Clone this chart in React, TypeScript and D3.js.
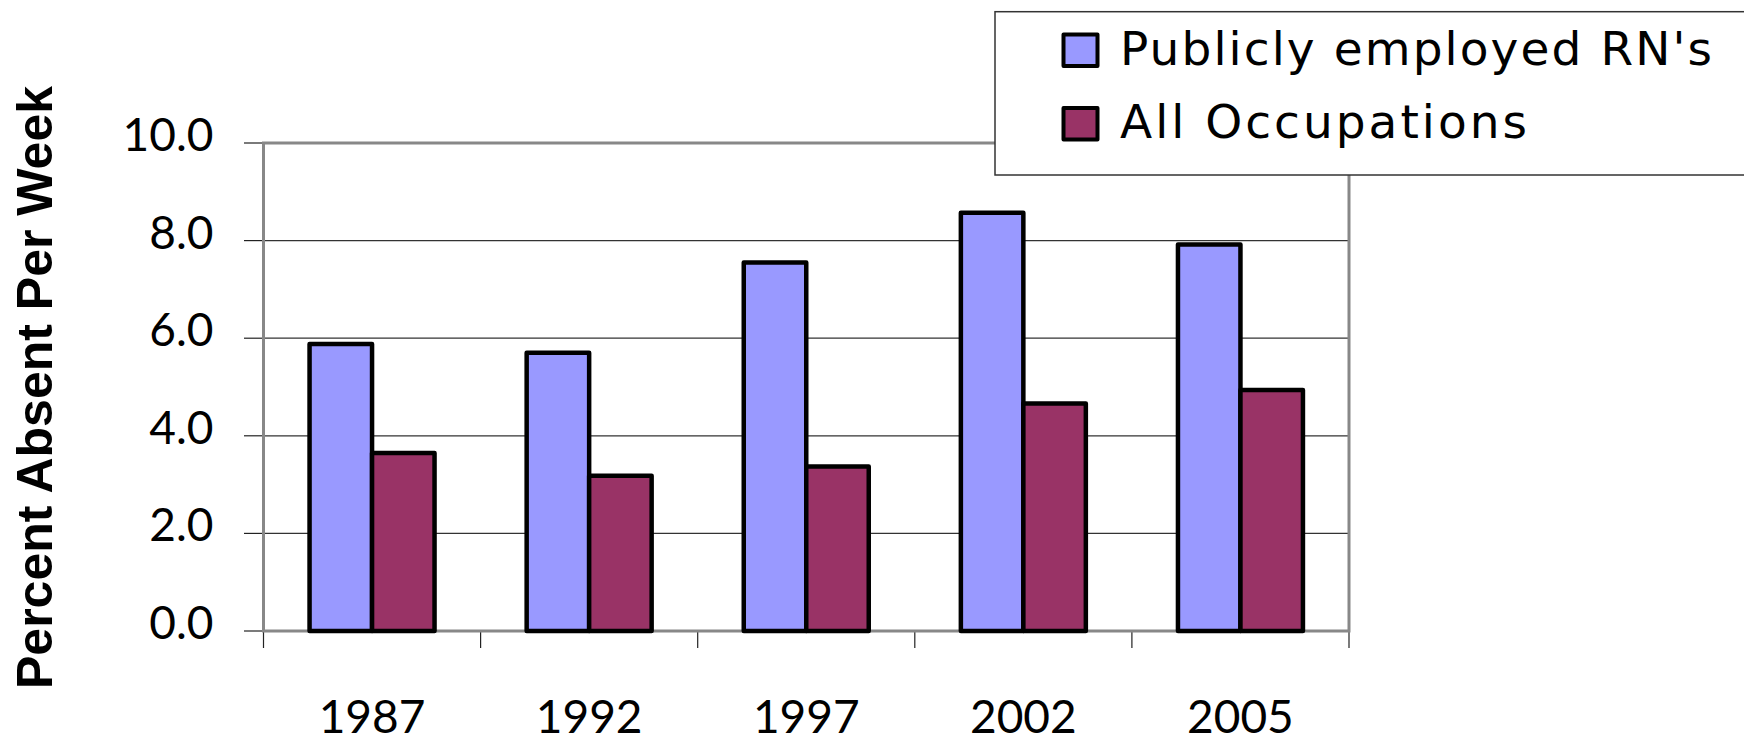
import React from "react";
import * as d3 from "d3";

const categories = ["1987", "1992", "1997", "2002", "2005"];
const seriesNames = ["Publicly employed RN's", "All Occupations"];
const publicRN = [5.88, 5.7, 7.55, 8.57, 7.92];
const allOccupations = [3.65, 3.18, 3.37, 4.66, 4.94];
const seriesColors = ["#9999FF", "#993366"];
const yTicks = [0, 2, 4, 6, 8, 10];
const yTitle = "Percent Absent Per Week";

const W = 1744;
const H = 743;
const plot = { left: 263.5, right: 1349, top: 143, bottom: 631 };

export default function App() {
  const x0 = d3
    .scaleBand<string>()
    .domain(categories)
    .range([plot.left, plot.right])
    .paddingInner(0)
    .paddingOuter(0);
  const x1 = d3
    .scaleBand<string>()
    .domain(seriesNames)
    .range([0, x0.bandwidth()])
    .paddingInner(0)
    .paddingOuter(0.737);
  const y = d3.scaleLinear().domain([0, 10]).range([plot.bottom, plot.top]);
  const values = [publicRN, allOccupations];
  const boundaries = categories.map((c) => x0(c) as number).concat([plot.right]);
  const tickFont = "Lato, 'Open Sans', sans-serif";
  const legendFont = "'DejaVu Sans', Lato, sans-serif";

  return (
    <svg
      width={W}
      height={H}
      style={{ position: "absolute", left: 0, top: 0, background: "#fff" }}
    >
      {/* gridlines */}
      {yTicks
        .filter((t) => t > 0 && t < 10)
        .map((t) => (
          <line
            key={"g" + t}
            x1={plot.left}
            x2={plot.right}
            y1={y(t)}
            y2={y(t)}
            stroke="#333"
            strokeWidth={1.2}
          />
        ))}
      {/* y ticks */}
      {yTicks.map((t) => (
        <line
          key={"yt" + t}
          x1={244}
          x2={plot.left}
          y1={y(t)}
          y2={y(t)}
          stroke="#222"
          strokeWidth={1.2}
        />
      ))}
      {/* x ticks */}
      {boundaries.map((b, i) => (
        <line
          key={"xt" + i}
          x1={b}
          x2={b}
          y1={plot.bottom}
          y2={648}
          stroke="#222"
          strokeWidth={1.2}
        />
      ))}
      {/* plot frame */}
      <path
        d={`M${plot.left},${plot.bottom}V${plot.top}H${plot.right}V${plot.bottom}Z`}
        fill="none"
        stroke="#888"
        strokeWidth={3}
      />
      {/* bars */}
      {categories.map((c, i) => (
        <g key={c} transform={`translate(${x0(c)},0)`}>
          {seriesNames.map((s, j) => (
            <rect
              key={s}
              x={x1(s)}
              y={y(values[j][i])}
              width={x1.bandwidth()}
              height={plot.bottom - y(values[j][i])}
              fill={seriesColors[j]}
              stroke="#000"
              strokeWidth={4.5}
              strokeLinejoin="round"
            />
          ))}
        </g>
      ))}
      {/* y tick labels */}
      {yTicks.map((t) => (
        <text
          key={"yl" + t}
          x={213.5}
          y={y(t) + 8}
          textAnchor="end"
          fontFamily={tickFont}
          fontSize={46}
          fill="#000"
        >
          {t.toFixed(1)}
        </text>
      ))}
      {/* x labels */}
      {categories.map((c) => (
        <text
          key={"xl" + c}
          x={(x0(c) as number) + x0.bandwidth() / 2}
          y={733}
          textAnchor="middle"
          fontFamily={tickFont}
          fontSize={46}
          fill="#000"
        >
          {c}
        </text>
      ))}
      {/* y title */}
      <text
        transform={`translate(52,387.5) rotate(-90)`}
        textAnchor="middle"
        fontFamily="'Liberation Sans', Arial, sans-serif"
        fontWeight="bold"
        fontSize={50}
        fill="#000"
      >
        {yTitle}
      </text>
      {/* legend */}
      <rect x={995} y={11.7} width={800} height={163.3} fill="#fff" stroke="#333" strokeWidth={1.5} />
      {seriesNames.map((s, j) => (
        <g key={"leg" + s}>
          <rect
            x={1063.5}
            y={j === 0 ? 34.5 : 108}
            width={34}
            height={31.5}
            fill={seriesColors[j]}
            stroke="#000"
            strokeWidth={4}
            strokeLinejoin="round"
          />
          <text
            x={1120}
            y={j === 0 ? 65 : 138.3}
            fontFamily={legendFont}
            fontSize={47}
            fill="#000"
            textLength={j === 0 ? 592 : 407}
            lengthAdjust="spacing"
          >
            {s}
          </text>
        </g>
      ))}
    </svg>
  );
}
